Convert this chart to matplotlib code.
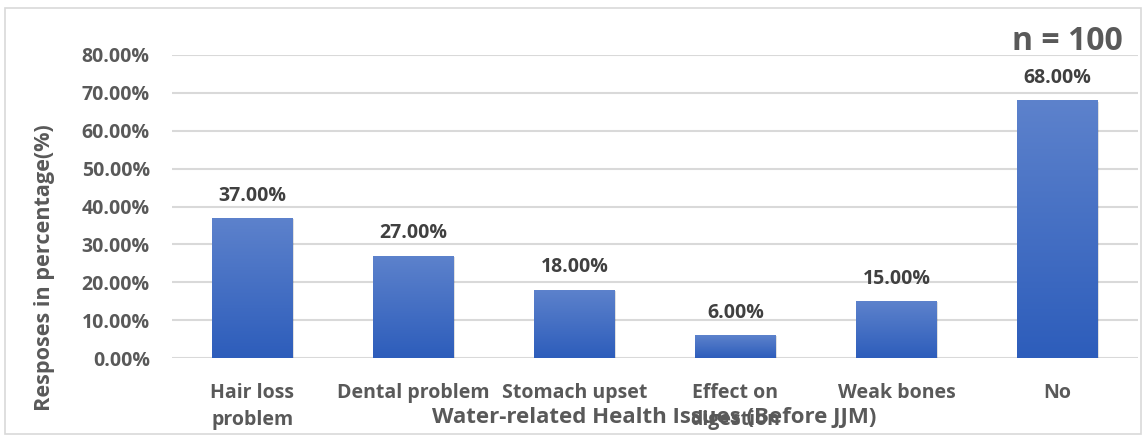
import matplotlib.pyplot as plt
import numpy as np
from matplotlib.patches import Rectangle

categories = ['Hair loss\nproblem', 'Dental problem', 'Stomach upset',
              'Effect on\ndigestion', 'Weak bones', 'No']
responses = [37.0, 27.0, 18.0, 6.0, 15.0, 68.0]
y_ticks = [0, 10, 20, 30, 40, 50, 60, 70, 80]

plt.rcParams['font.family'] = ['Open Sans', 'DejaVu Sans']

fig = plt.figure(figsize=(11.46, 4.37), dpi=100)
ax = fig.add_axes([172 / 1146, 1 - 358 / 437, 966 / 1146, 303 / 437])

x = np.arange(len(categories))
bars = ax.bar(x, responses, width=0.5, color='#3f6cc6', zorder=3)

# vertical gradient on each bar, plus a soft shadow on the right/bottom
grad = np.linspace(0, 1, 256).reshape(-1, 1)
cmap = plt.matplotlib.colors.LinearSegmentedColormap.from_list('bar', ['#2d5dbb', '#5d82cc'])
for b in bars:
    x0, w, h = b.get_x(), b.get_width(), b.get_height()
    shadow = Rectangle((x0 + 0.01, -0.3), w, h, color='#000000', alpha=0.12, lw=0, zorder=2)
    ax.add_patch(shadow)
    im = ax.imshow(grad, extent=(x0, x0 + w, 0, h), origin='lower', cmap=cmap,
                   aspect='auto', zorder=4)
    im.set_clip_path(b)
    ax.text(b.get_x() + w / 2, h + 5.9, f'{h:.2f}%', ha='center', va='center',
            fontsize=14, fontweight='bold', color='#404040', zorder=5)

ax.set_xlim(-0.5, len(categories) - 0.5)
ax.set_ylim(0, 80)
ax.set_yticks(y_ticks)
ax.set_yticklabels([f'{t:.2f}%' for t in y_ticks], fontsize=14, fontweight='bold', color='#595959')
ax.set_xticks(x)
ax.set_xticklabels(categories, fontsize=14, fontweight='bold', color='#595959',
                   va='top', linespacing=1.45)
ax.tick_params(axis='both', length=0)
ax.tick_params(axis='x', pad=18)
ax.tick_params(axis='y', pad=16)
ax.grid(axis='y', color='#d9d9d9', lw=1.5, zorder=0)
for s in ax.spines.values():
    s.set_visible(False)

fig.text(45 / 1146, 1 - 268 / 437, 'Resposes in percentage(%)', rotation=90, ha='center',
         va='center', fontsize=15.6, fontweight='bold', color='#595959')
fig.text(654 / 1146, 1 - 417 / 437, 'Water-related Health Issues (Before JJM)', ha='center',
         va='center', fontsize=16, fontweight='bold', color='#595959')
fig.text(1067 / 1146, 1 - 42 / 437, 'n = 100', ha='center', va='center',
         fontsize=23, fontweight='bold', color='#595959')

fig.patches.append(Rectangle((5 / 1146, 1 - 434 / 437), 1136 / 1146, 426 / 437,
                             transform=fig.transFigure, fill=False, ec='#d9d9d9', lw=1.2))

fig.savefig('out.png', dpi=100)
